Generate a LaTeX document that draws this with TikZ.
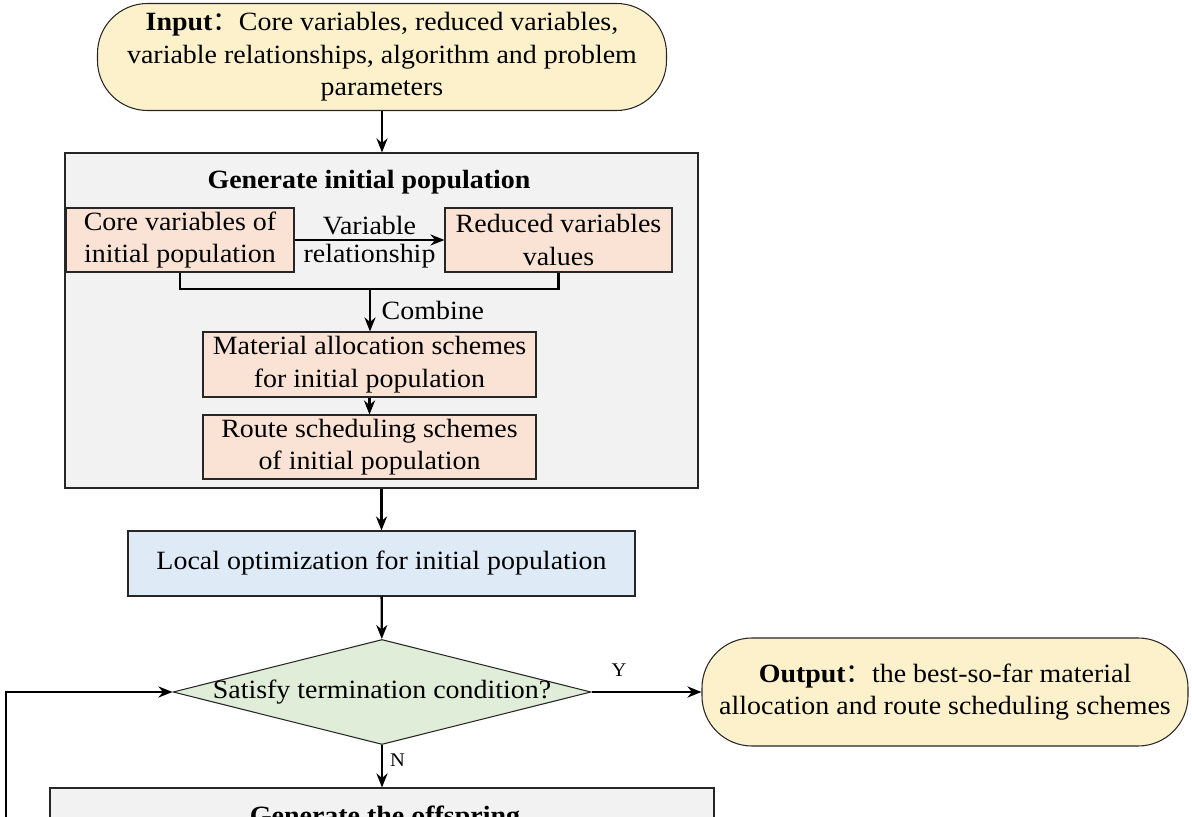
\documentclass[tikz,border=0pt]{standalone}
\usepackage{fontspec}
\setmainfont{Liberation Serif}[FakeStretch=1.06]
\newfontfamily\cjk{Noto Sans CJK SC}
\usetikzlibrary{arrows.meta,positioning,shapes.geometric}
\definecolor{termfill}{HTML}{FDF1CB}
\definecolor{grpfill}{HTML}{F2F2F2}
\definecolor{subfill}{HTML}{FAE3D4}
\definecolor{procfill}{HTML}{DEEBF7}
\definecolor{decfill}{HTML}{E0EDD8}
\newcommand{\boxfont}{\fontsize{15}{18.5}\selectfont}

\begin{document}
\begin{tikzpicture}[
  x=0.2mm,y=-0.2mm,
  >={Stealth[length=2.8mm,width=2.2mm]},
  base/.style={draw=black!85,line width=.6pt,align=center,inner sep=0,font=\boxfont},
  term/.style={base,fill=termfill,rounded corners=10mm},
  grp/.style={base,fill=grpfill},
  sub/.style={base,fill=subfill},
  proc/.style={base,fill=procfill},
  decide/.style={base,diamond,aspect=4,inner xsep=-6pt,fill=decfill},
  lbl/.style={font=\boxfont,align=center,inner sep=1pt},
  head/.style={font=\bfseries\boxfont,inner sep=1pt},
  yn/.style={font=\fontsize{11}{13}\selectfont,inner sep=1pt},
  link/.style={->,line width=1.3pt},
]
  \clip (0,0) rectangle (1192,817);
  \node[term,minimum width=11.38cm,minimum height=2.14cm] (input) at (382,57) {\textbf{Input}{\cjk ：}Core variables, reduced variables,\\variable relationships, algorithm and problem\\parameters};
  \node[grp,minimum width=12.66cm,minimum height=6.7cm] (gen) at (381.5,320.5) {};
  \node[head] (gentitle) at (369,182) {Generate initial population};
  \node[sub,minimum width=4.56cm,minimum height=1.28cm] (core) at (180,240) {Core variables of\\initial population};
  \node[sub,minimum width=4.54cm,minimum height=1.28cm] (reduced) at (558.5,240) {Reduced variables\\values};
  \node[sub,minimum width=6.66cm,minimum height=1.3cm] (alloc) at (369.5,364.5) {Material allocation schemes\\for initial population};
  \node[sub,minimum width=6.66cm,minimum height=1.28cm] (route) at (369.5,447) {Route scheduling schemes\\of initial population};
  \node[proc,minimum width=10.14cm,minimum height=1.3cm] (local) at (381.5,563.5) {Local optimization for initial population};
  \node[decide,minimum width=8.36cm,minimum height=2.1cm] (dec) at (382,692) {Satisfy termination condition?};
  \node[term,minimum width=9.72cm,minimum height=2.16cm] (output) at (945,692) {\textbf{Output}{\cjk ：}the best-so-far material\\allocation and route scheduling schemes};
  \node[grp,minimum width=13.28cm,minimum height=3cm] (offspring) at (382,863) {};
  \node[head] (offtitle) at (385,818) {Generate the offspring};
  \coordinate (join) at (370,289);
  \coordinate (loop) at (6,840);
  \draw[link] (input.south) -- (input.south |- gen.north);
  \draw[link] (core) -- node[lbl,above=1pt] {Variable} node[lbl,below=1pt] {relationship} (reduced);
  \draw[line width=1.3pt] (core.south) |- (join) -| (reduced.south);
  \draw[link] (join) -- node[lbl,right=5pt] {Combine} (join |- alloc.north);
  \foreach \a/\b in {alloc/route,local/dec} \draw[link] (\a) -- (\b);
  \draw[link] (gen.south) -- (local);
  \draw[link] (dec) -- node[yn,above=7pt,pos=.25] {Y} (output);
  \draw[link] (dec) -- node[yn,right=3pt,pos=.35] {N} (dec.south |- offspring.north);
  \draw[link] (loop) |- (dec.west);
\end{tikzpicture}
\end{document}
